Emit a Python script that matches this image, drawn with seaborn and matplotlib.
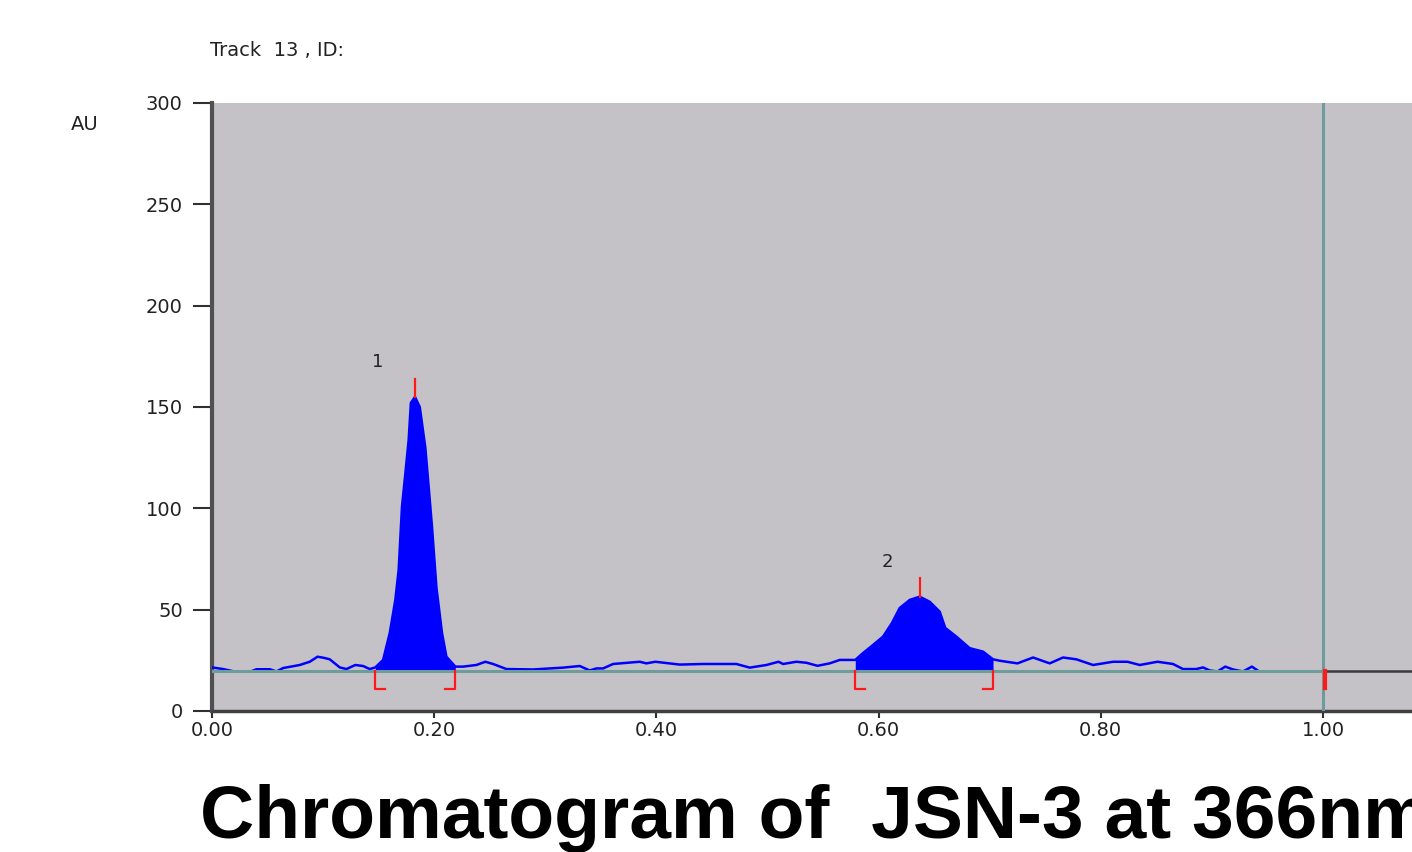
import numpy as np
import pandas as pd
import matplotlib
matplotlib.use("Agg")
import matplotlib.pyplot as plt
import seaborn as sns

# ---------------- data ----------------
rf = [0.000, 0.010, 0.020, 0.035, 0.040, 0.052, 0.058, 0.064, 0.072, 0.079,
      0.088, 0.095, 0.101, 0.106, 0.115, 0.121, 0.129, 0.136, 0.142, 0.147,
      0.154, 0.160, 0.165, 0.168, 0.171, 0.174, 0.177, 0.179, 0.1827, 0.187,
      0.192, 0.195, 0.198, 0.202, 0.207, 0.211, 0.219, 0.226, 0.238, 0.246,
      0.253, 0.265, 0.289, 0.316, 0.331, 0.340, 0.346, 0.352, 0.361, 0.385,
      0.391, 0.399, 0.421, 0.442, 0.472, 0.484, 0.499, 0.510, 0.514, 0.526,
      0.535, 0.545, 0.556, 0.565, 0.579, 0.586, 0.595, 0.604, 0.612, 0.619,
      0.628, 0.637, 0.646, 0.655, 0.660, 0.670, 0.682, 0.694, 0.703, 0.709,
      0.725, 0.739, 0.754, 0.766, 0.778, 0.793, 0.811, 0.824, 0.835, 0.851,
      0.865, 0.874, 0.886, 0.892, 0.898, 0.905, 0.912, 0.919, 0.928, 0.936,
      0.942]
au = [21.5, 20.7, 19.5, 19.5, 20.6, 20.6, 19.5, 21.2, 22.0, 22.7,
      24.3, 26.8, 26.2, 25.5, 21.5, 20.7, 22.7, 22.2, 20.7, 21.5,
      25.2, 38.5, 54.8, 69.6, 100.8, 117.0, 133.7, 152.0, 155.0, 150.0,
      130.0, 110.7, 91.0, 61.0, 38.5, 26.8, 21.9, 21.9, 22.7, 24.3,
      23.2, 20.7, 20.5, 21.4, 22.2, 20.0, 21.0, 21.0, 23.2, 24.3,
      23.5, 24.3, 22.9, 23.2, 23.2, 21.4, 22.7, 24.3, 23.2, 24.3,
      23.8, 22.3, 23.5, 25.2, 25.2, 28.6, 32.6, 36.7, 43.4, 50.8,
      54.8, 56.4, 53.9, 49.0, 41.0, 36.7, 31.0, 29.3, 25.5, 24.8,
      23.5, 26.4, 23.5, 26.4, 25.5, 22.7, 24.3, 24.3, 22.7, 24.3,
      23.2, 20.7, 20.7, 21.5, 20.0, 19.5, 21.9, 20.5, 19.5, 21.9,
      19.7]
baseline_au = 19.7
peak_ids = ["1", "2"]
peak_start = [0.147, 0.579]
peak_end = [0.219, 0.703]
peak_max_rf = [0.1827, 0.637]
peak_max_au = [155.0, 56.4]
front_rf = 1.00
y_ticks = [0, 50, 100, 150, 200, 250, 300]
x_ticks = [0.00, 0.20, 0.40, 0.60, 0.80, 1.00]
x_ticklabels = ["0.00", "0.20", "0.40", "0.60", "0.80", "1.00"]
title = "Chromatogram of  JSN-3 at 366nm"
track_label = "Track  13 , ID:"
y_unit = "AU"

df = pd.DataFrame({"Rf": rf, "AU": au})

# ---------------- figure ----------------
W, H = 1412, 852
fig = plt.figure(figsize=(W / 100, H / 100), dpi=100)
fig.patch.set_facecolor("white")
ax = fig.add_axes([212 / W, 141 / H, (W - 212) / W, (711 - 103) / H])
ax.set_facecolor("#c4c2c6")

xmax = (W - 212) / 1111.0
ax.set_xlim(0, xmax)
ax.set_ylim(0, 300)

blue = "#0000ff"
teal = "#6e9c9c"
red = "#ff1a1a"

# fills of integrated peaks
x_arr = np.array(rf)
y_arr = np.array(au)
for s, e in zip(peak_start, peak_end):
    m = (x_arr >= s - 1e-9) & (x_arr <= e + 1e-9)
    ax.fill_between(x_arr, baseline_au, y_arr, where=m, color=blue, lw=0, zorder=2)

# trace
sns.lineplot(data=df, x="Rf", y="AU", ax=ax, color=blue, lw=1.8, zorder=3,
             estimator=None, sort=False)

# baseline and front
ax.plot([0, front_rf], [baseline_au, baseline_au], color=teal, lw=2.2, zorder=4)
ax.plot([front_rf, xmax], [baseline_au, baseline_au], color="#3a3a3a", lw=1.8, zorder=4)
ax.axvline(front_rf, color=teal, lw=2.2, zorder=4)
ax.plot([front_rf + 0.002, front_rf + 0.002], [baseline_au, 11.5], color=red, lw=3, zorder=5)

# peak markers
foot = 0.009
bot = 11.0
for pid, s, e, pr, pa in zip(peak_ids, peak_start, peak_end, peak_max_rf, peak_max_au):
    ax.plot([s, s, s + foot], [baseline_au, bot, bot], color=red, lw=1.6, zorder=5)
    ax.plot([e - foot, e, e], [bot, bot, baseline_au], color=red, lw=1.6, zorder=5)
    ax.plot([pr, pr], [pa, pa + 9], color=red, lw=1.6, zorder=5)

ax.text(0.149, 172, peak_ids[0], fontsize=13, color="#222222", ha="center", va="center",
        family="DejaVu Sans")
ax.text(0.608, 73.5, peak_ids[1], fontsize=13, color="#222222", ha="center", va="center",
        family="DejaVu Sans")

# axes styling
for side in ["top", "right"]:
    ax.spines[side].set_visible(False)
ax.spines["left"].set_color("#505050")
ax.spines["left"].set_linewidth(3)
ax.spines["bottom"].set_color("#404040")
ax.spines["bottom"].set_linewidth(2.5)

ax.set_yticks(y_ticks)
ax.set_yticklabels([str(v) for v in y_ticks])
ax.set_xticks(x_ticks)
ax.set_xticklabels(x_ticklabels)
ax.tick_params(axis="y", length=14, width=1.5, color="#303030", pad=7,
               labelsize=14, labelcolor="#222222")
ax.tick_params(axis="x", length=5, width=1.5, color="#303030", pad=2,
               labelsize=14, labelcolor="#222222")
for lab in ax.get_xticklabels() + ax.get_yticklabels():
    lab.set_family("DejaVu Sans")
ax.set_xlabel("")
ax.set_ylabel("")

fig.text(85 / W, 1 - 125 / H, y_unit, fontsize=14, ha="center", va="center",
         color="#222222", family="DejaVu Sans")
fig.text(210 / W, 1 - 50 / H, track_label, fontsize=14, ha="left", va="center",
         color="#222222", family="DejaVu Sans")
fig.text(200 / W, 1 - 838 / H, title, fontsize=54, fontweight="bold", ha="left",
         va="baseline", color="black", family="Liberation Sans")

fig.savefig("out.png", dpi=100, facecolor="white")
